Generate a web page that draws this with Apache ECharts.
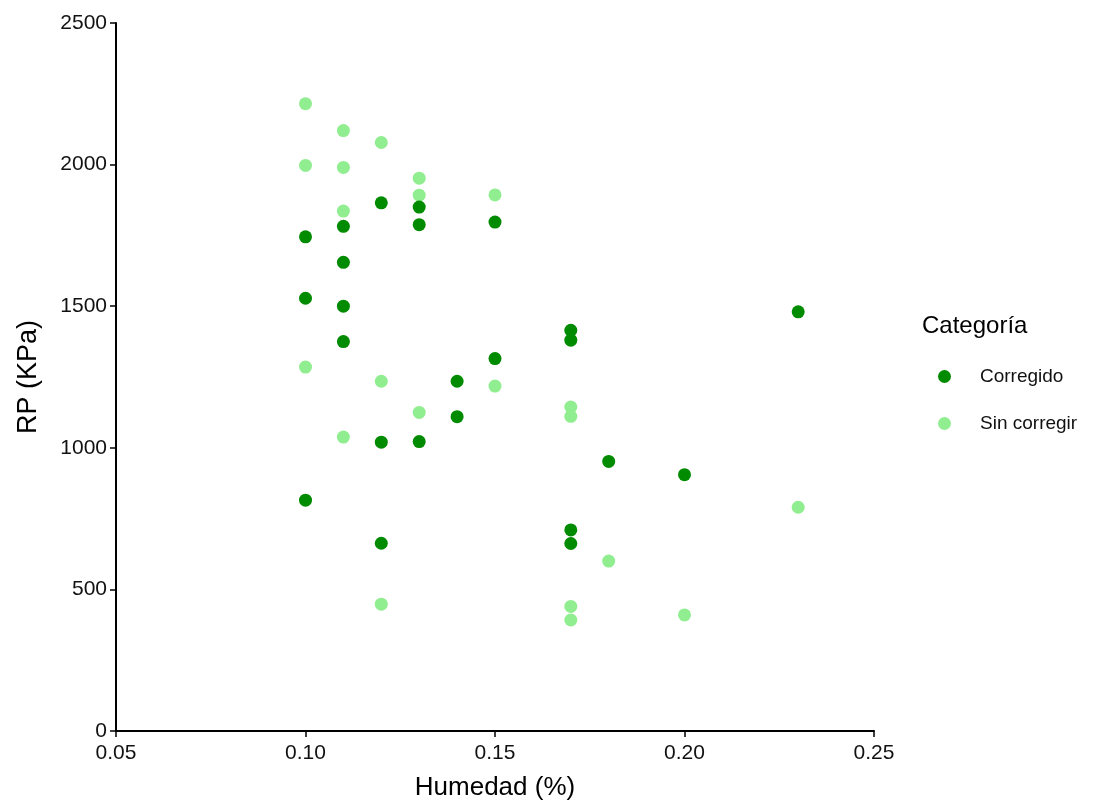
<!DOCTYPE html>
<html lang="es" style="height: 100%">
<head>
    <meta charset="utf-8">
    <title>RP vs Humedad</title>
    <script src="https://cdn.jsdelivr.net/npm/echarts@6.0.0/dist/echarts.min.js"></script>
    <style>
        html, body { margin: 0; padding: 0; background: #fff; }
        #chart { width: 1105px; height: 800px; }
    </style>
</head>
<body>
<div id="chart"></div>
<script type="text/javascript">
    // datos
    var seriesNames = ['Corregido', 'Sin corregir'];

    var humCorregido = [0.10, 0.10, 0.10, 0.11, 0.11, 0.11, 0.11, 0.12, 0.12, 0.12,
        0.13, 0.13, 0.13, 0.14, 0.14, 0.15, 0.15, 0.17, 0.17, 0.17, 0.17, 0.18, 0.20, 0.23];
    var rpCorregido = [1745, 1528, 815, 1782, 1655, 1500, 1375, 1865, 1020, 663,
        1850, 1788, 1022, 1235, 1110, 1797, 1315, 1415, 1380, 710, 662, 952, 905, 1480];

    var humSinCorregir = [0.10, 0.10, 0.10, 0.11, 0.11, 0.11, 0.11, 0.12, 0.12, 0.12,
        0.13, 0.13, 0.13, 0.15, 0.15, 0.17, 0.17, 0.17, 0.17, 0.18, 0.20, 0.23];
    var rpSinCorregir = [2215, 1997, 1285, 2120, 1990, 1836, 1038, 2078, 1235, 448,
        1952, 1892, 1125, 1893, 1218, 1144, 1111, 440, 392, 600, 410, 790];

    var xTicks = [0.05, 0.10, 0.15, 0.20, 0.25];
    var yTicks = [0, 500, 1000, 1500, 2000, 2500];

    function pares(xs, ys) {
        return xs.map(function (x, i) { return [x, ys[i]]; });
    }

    var myChart = echarts.init(document.getElementById('chart'), null, { renderer: 'canvas' });
    var fuente = 'Liberation Sans, Arial, sans-serif';

    var option = {
        animation: false,
        backgroundColor: '#ffffff',
        title: {
            text: 'Categoría',
            left: 917,
            top: 309,
            textStyle: { fontFamily: fuente, fontSize: 24, fontWeight: 'normal', color: '#000' }
        },
        legend: {
            data: seriesNames,
            orient: 'vertical',
            left: 933,
            top: 362,
            icon: 'circle',
            itemWidth: 13,
            itemHeight: 13,
            itemGap: 28,
            textStyle: { fontFamily: fuente, fontSize: 19, color: '#111', padding: [0, 0, 0, 24] }
        },
        grid: {
            left: 116, right: 231, top: 23, bottom: 69,
            containLabel: false,
            outerBoundsMode: 'none'
        },
        xAxis: {
            type: 'value',
            min: xTicks[0],
            max: xTicks[xTicks.length - 1],
            interval: 0.05,
            name: 'Humedad (%)',
            nameLocation: 'middle',
            nameGap: 44,
            nameTextStyle: { fontFamily: fuente, fontSize: 26, color: '#000' },
            axisLine: { lineStyle: { color: '#000', width: 2 } },
            axisTick: { show: true, length: 6, lineStyle: { color: '#000', width: 1.5 } },
            axisLabel: {
                fontFamily: fuente, fontSize: 21, color: '#111', margin: 12,
                formatter: function (v) { return v.toFixed(2); }
            },
            splitLine: { show: false }
        },
        yAxis: {
            type: 'value',
            min: yTicks[0],
            max: yTicks[yTicks.length - 1],
            interval: 500,
            name: 'RP (KPa)',
            nameLocation: 'middle',
            nameGap: 74,
            nameRotate: 90,
            nameTextStyle: { fontFamily: fuente, fontSize: 27, color: '#000' },
            axisLine: { show: true, lineStyle: { color: '#000', width: 2 } },
            axisTick: { show: true, length: 6, lineStyle: { color: '#000', width: 1.5 } },
            axisLabel: {
                fontFamily: fuente, fontSize: 21, color: '#111', margin: 9,
                formatter: function (v) { return String(v); }
            },
            splitLine: { show: false }
        },
        series: [
            {
                name: seriesNames[1],
                type: 'scatter',
                symbolSize: 13,
                itemStyle: { color: '#90EE90', opacity: 1 },
                data: pares(humSinCorregir, rpSinCorregir),
                z: 2
            },
            {
                name: seriesNames[0],
                type: 'scatter',
                symbolSize: 13,
                itemStyle: { color: '#008B00', opacity: 1 },
                data: pares(humCorregido, rpCorregido),
                z: 3
            }
        ]
    };

    myChart.setOption(option);
</script>
</body>
</html>
